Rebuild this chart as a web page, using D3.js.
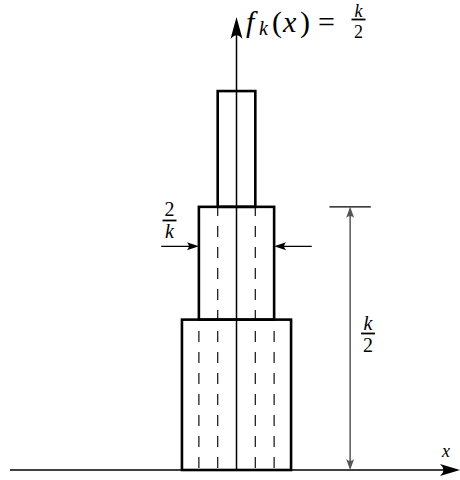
<!DOCTYPE html>
<html>
<head>
<meta charset="utf-8">
<script src="https://cdn.jsdelivr.net/npm/d3@7"></script>
<style>
  html, body { margin: 0; padding: 0; background: #fff; }
  svg { display: block; }
</style>
</head>
<body>
<svg id="chart" width="460" height="480"></svg>
<script>
// Stacked steps of f_k(x) = k/2 on an interval of width 2/k
const halfWidths  = [1.45, 1.0, 0.5];   // half-width of each step
const stepBottoms = [0, 4, 7];          // lower edge of each step
const stepTops    = [4, 7, 10.08];      // upper edge of each step
const axisXDomain = [-6.02, 5.94];
const axisYTop    = 12.05;
const dimensionX  = 3.02;               // vertical k/2 measure
const widthArrowY = 5.95;               // level of the 2/k arrows
const widthArrowReach = 2.0;

const FONT = "Liberation Serif";
const svg = d3.select("#chart");
const x = d3.scaleLinear().domain(axisXDomain).range([10, 460]);
const y = d3.scaleLinear().domain([0, axisYTop]).range([470, 17]);

// arrowhead with a curved back, tip at (tx, ty) pointing along angle a
function arrowHead(tx, ty, a, len, half, color) {
  const p = d3.path();
  p.moveTo(0, 0);
  p.lineTo(-len, -half);
  p.quadraticCurveTo(-len * 0.65, 0, -len, half);
  p.closePath();
  svg.append("path")
    .attr("d", p.toString())
    .attr("transform", `translate(${tx},${ty}) rotate(${a})`)
    .attr("fill", color);
}

// dashed guides: edges of each upper step carried down to the axis
const guides = [];
halfWidths.forEach((h, i) => {
  if (i === 0) return;
  guides.push({ x: -h, top: stepBottoms[i] });
  guides.push({ x:  h, top: stepBottoms[i] });
});
svg.append("g").selectAll("line").data(guides).join("line")
  .attr("x1", d => x(d.x)).attr("x2", d => x(d.x))
  .attr("y1", y(0)).attr("y2", d => y(d.top))
  .attr("stroke", "#222").attr("stroke-width", 1.3)
  .attr("stroke-dasharray", "11,10")
  .attr("stroke-dashoffset", -2);

// the steps
svg.append("g").selectAll("rect").data(halfWidths).join("rect")
  .attr("x", d => x(-d))
  .attr("width", d => x(d) - x(-d))
  .attr("y", (d, i) => y(stepTops[i]))
  .attr("height", (d, i) => y(stepBottoms[i]) - y(stepTops[i]))
  .attr("fill", "none").attr("stroke", "#000").attr("stroke-width", 2.6);

// axes
svg.append("line")
  .attr("x1", x(axisXDomain[0])).attr("x2", x(axisXDomain[1]) - 8)
  .attr("y1", y(0)).attr("y2", y(0))
  .attr("stroke", "#000").attr("stroke-width", 1.5);
arrowHead(x(axisXDomain[1]), y(0), 0, 20, 6, "#000");

svg.append("line")
  .attr("x1", x(0)).attr("x2", x(0))
  .attr("y1", y(0)).attr("y2", y(axisYTop) + 8)
  .attr("stroke", "#000").attr("stroke-width", 1.5);
arrowHead(x(0), y(axisYTop), -90, 22, 6, "#000");

// vertical measure of the middle step height
const dimColor = "#555";
svg.append("line")
  .attr("x1", x(dimensionX)).attr("x2", x(dimensionX))
  .attr("y1", y(0) - 2).attr("y2", y(stepTops[1]) + 2)
  .attr("stroke", dimColor).attr("stroke-width", 1.5);
arrowHead(x(dimensionX), y(stepTops[1]), -90, 11, 4, dimColor);
arrowHead(x(dimensionX), y(0), 90, 11, 4, dimColor);
svg.append("line")
  .attr("x1", x(dimensionX - 0.55)).attr("x2", x(dimensionX + 0.55))
  .attr("y1", y(stepTops[1])).attr("y2", y(stepTops[1]))
  .attr("stroke", "#000").attr("stroke-width", 1.2);

// width arrows pointing at the middle step
const wy = y(widthArrowY);
const wl = -halfWidths[1], wr = halfWidths[1];
svg.append("line")
  .attr("x1", x(-widthArrowReach)).attr("x2", x(wl) - 4)
  .attr("y1", wy).attr("y2", wy)
  .attr("stroke", "#000").attr("stroke-width", 1.2);
arrowHead(x(wl), wy, 0, 12, 4, "#000");
svg.append("line")
  .attr("x1", x(widthArrowReach)).attr("x2", x(wr) + 4)
  .attr("y1", wy).attr("y2", wy)
  .attr("stroke", "#000").attr("stroke-width", 1.2);
arrowHead(x(wr), wy, 180, 12, 4, "#000");

function newText() {
  return svg.append("text").attr("font-family", FONT).attr("fill", "#000");
}

// stacked fraction: numerator and denominator as tspans of one text
function fraction(parent, cx, barY, top, bottom, size, above, below, topItalic, bottomItalic) {
  const t = parent.append("tspan").attr("x", cx).attr("y", barY - above)
    .attr("font-size", size).attr("text-anchor", "middle").text(top);
  if (topItalic) t.attr("font-style", "italic");
  const b = parent.append("tspan").attr("x", cx).attr("y", barY + below)
    .attr("font-size", size).attr("text-anchor", "middle").text(bottom);
  if (bottomItalic) b.attr("font-style", "italic");
  svg.append("line")
    .attr("x1", cx - 7).attr("x2", cx + 7)
    .attr("y1", barY).attr("y2", barY)
    .attr("stroke", "#000").attr("stroke-width", 1.8);
}

fraction(newText(), 169.5, 220.5, "2", "k", 20, 5, 17.5, false, true);
fraction(newText(), 368, 333.5, "k", "2", 20, 3.5, 18.8, true, false);

// axis name
newText().attr("x", 446).attr("y", 457)
  .attr("text-anchor", "middle").attr("font-size", 18)
  .attr("font-style", "italic").text("x");

// function label at the top of the vertical axis
const title = newText().attr("font-size", 30);
title.append("tspan").attr("x", 246).attr("y", 32).attr("font-style", "italic").text("f");
title.append("tspan").attr("x", 259).attr("y", 35).attr("font-size", 20).attr("font-style", "italic").text("k");
title.append("tspan").attr("x", 272).attr("y", 32).text("(");
title.append("tspan").attr("x", 283).attr("y", 32).attr("font-style", "italic").text("x");
title.append("tspan").attr("x", 300).attr("y", 32).text(")");
title.append("tspan").attr("x", 318).attr("y", 32).text("=");
fraction(title, 358.5, 19.5, "k", "2", 18, 3, 18.5, true, false);
</script>
</body>
</html>
